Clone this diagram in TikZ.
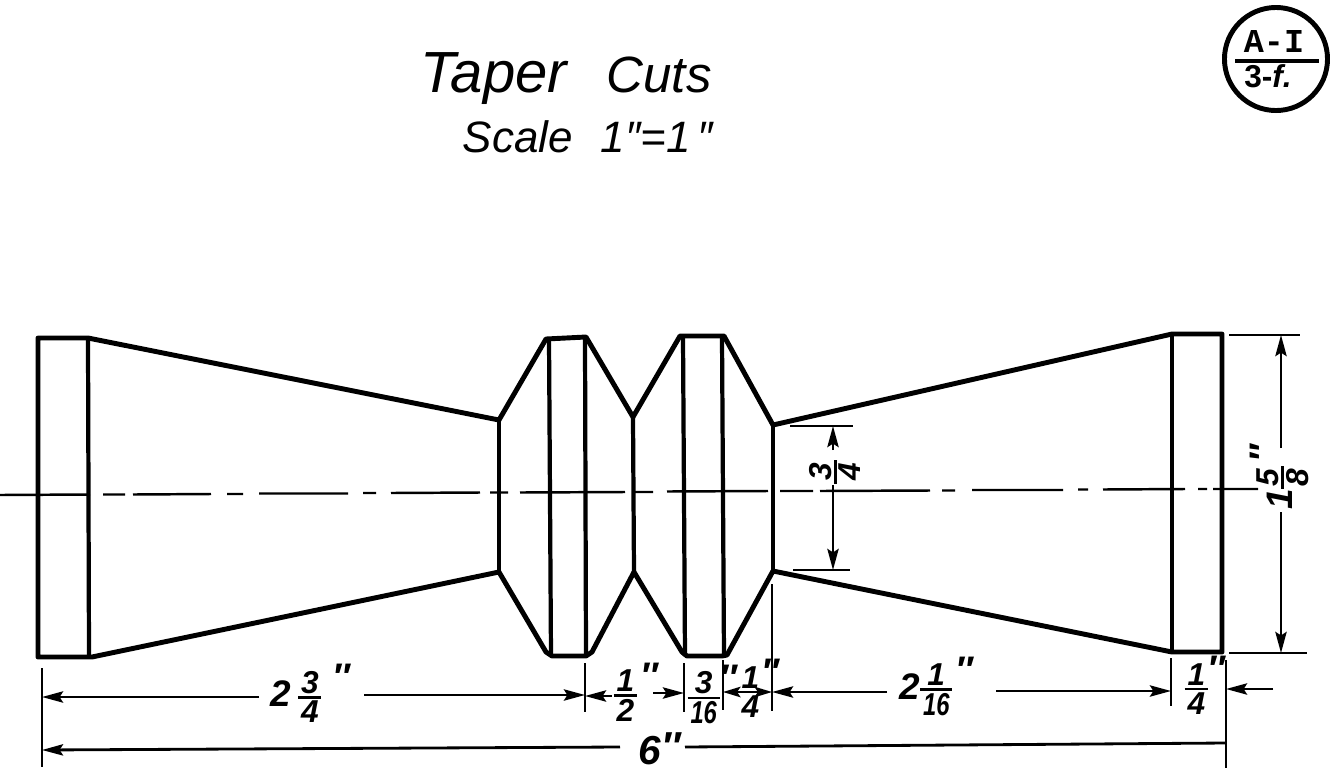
\documentclass[tikz,border=0pt]{standalone}
\usepackage{fontspec}
\setmainfont{Liberation Sans}
\newfontfamily\badgefont{Liberation Mono}
\usetikzlibrary{arrows.meta}

\newcommand{\dimfrac}[2]{$\vcenter{\offinterlineskip\fontsize{9}{10}\selectfont
  \halign{\kern.8pt\hfil##\hfil\kern.8pt\cr #1\cr\noalign{\kern.7pt\hrule height.8pt\kern.7pt}#2\cr}}$}
\newcommand{\narrownum}[1]{\scalebox{.75}[1]{#1}}
\newcommand{\inchmark}{\smash{\raisebox{5pt}{″}}}

\tikzset{
  partline/.style={line width=1.4pt,line join=round},
  cutline/.style={line width=1.2pt},
  centreline/.style={line width=.7pt},
  extline/.style={line width=.6pt},
  dimline/.style={line width=.8pt,-{Stealth[length=6pt,width=3.2pt,inset=1pt]}},
  dimboth/.style={line width=.6pt,{Stealth[length=5pt,width=3pt,inset=1pt]}-{Stealth[length=5pt,width=3pt,inset=1pt]}},
  dimtext/.style={inner sep=0pt,font=\fontsize{10.5}{12}\selectfont\bfseries\itshape},
}

\begin{document}
\begin{tikzpicture}[x=.01cm,y=-.01cm]
   \useasboundingbox (0,0) rectangle (1332,778);

   % title
   \node[anchor=base west,inner sep=0pt,font=\fontsize{16.5}{18}\selectfont\itshape] (title) at (420,92) {Taper};
   \node[anchor=base west,inner sep=0pt,font=\fontsize{14.5}{18}\selectfont\itshape] (cuts) at (606,92) {Cuts};
   \node[anchor=base west,inner sep=0pt,font=\fontsize{12.5}{15}\selectfont\itshape] (scale) at (462,152) {Scale\hspace{8pt}1″=1\hspace{2pt}″};

   % badge
   \node[circle,draw,line width=1.4pt,inner sep=0pt,minimum size=1.03cm] (badge) at (1276,59) {};
   \coordinate (badgeL) at (1235,61);
   \coordinate (badgeR) at (1319,61);
   \path (badgeL) edge[line width=.9pt] (badgeR);
   \node[anchor=base,inner sep=0pt,font=\fontsize{9.5}{10}\selectfont\badgefont\bfseries] (badgeT) at (1274,52) {A-I};
   \node[anchor=base,inner sep=0pt,font=\fontsize{9}{10}\selectfont\bfseries] (badgeB) at (1268,87) {3-\textit{f.}};

   % part outline
   \draw[partline] (38,338) -- (88,338) -- (499,420) -- (546,339) -- (586,337) -- (633,417)
      -- (680,336) -- (724,336) -- (773,425) -- (1172,334) -- (1222,334) -- (1222,652)
      -- (1172,652) -- (773,571) -- (727,655) -- (722,656) -- (687,656) -- (682,652)
      -- (634,572) -- (592,652) -- (586,656) -- (552,656) -- (546,652) -- (499,572)
      -- (92,657) -- (38,657) -- cycle;

   % cuts
   \draw[cutline] (88,338) -- (89,657);
   \draw[cutline] (499,420) -- (499,572);
   \draw[cutline] (549,338) -- (551,656);
   \draw[cutline] (585,337) -- (586,656);
   \draw[cutline] (633,417) -- (634,572);
   \draw[cutline] (683,336) -- (685,656);
   \draw[cutline] (722,336) -- (724,656);
   \draw[cutline] (773,425) -- (773,571);
   \draw[cutline] (1172,334) -- (1172,652);

   % centre line
   \draw[centreline] (0,495) -- (90,494.5) (103,494.5) -- (125,494.5) (133,494.5) -- (211,494)
      (227,494) -- (243,494) (259,493.5) -- (348,493.5) (363,493) -- (376,493)
      (391,493) -- (480,492.5) (490,492.5) -- (508,492.5) (520,492.5) -- (625,492)
      (635,492) -- (653,492) (667,491.5) -- (768,491) (780,491) -- (813,491)
      (820,491) -- (930,490.5) (942,490.5) -- (955,490.5) (972,490) -- (1063,490)
      (1078,489.5) -- (1088,489.5) (1103,489.5) -- (1185,489) (1198,489) -- (1207,489)
      (1213,489) -- (1258,489);

   % extension lines
   \coordinate (e1a) at (42,668);
   \coordinate (e1b) at (42,767);
   \coordinate (e2a) at (585,663);
   \coordinate (e2b) at (585,712);
   \coordinate (e3a) at (684,663);
   \coordinate (e3b) at (684,712);
   \coordinate (e4a) at (723,660);
   \coordinate (e4b) at (723,710);
   \coordinate (e5a) at (772,584);
   \coordinate (e5b) at (772,711);
   \coordinate (e6a) at (1171,658);
   \coordinate (e6b) at (1171,706);
   \coordinate (e7a) at (1226,660);
   \coordinate (e7b) at (1226,768);
   \coordinate (e8a) at (790,426);
   \coordinate (e8b) at (853,426);
   \coordinate (e9a) at (793,570);
   \coordinate (e9b) at (850,570);
   \coordinate (e10a) at (1229,335);
   \coordinate (e10b) at (1300,335);
   \coordinate (e11a) at (1229,653);
   \coordinate (e11b) at (1307,653);

   \path (e1a) edge[extline] (e1b);
   \path (e2a) edge[extline] (e2b);
   \path (e3a) edge[extline] (e3b);
   \path (e4a) edge[extline] (e4b);
   \path (e5a) edge[extline] (e5b);
   \path (e6a) edge[extline] (e6b);
   \path (e7a) edge[extline] (e7b);
   \path (e8a) edge[extline] (e8b);
   \path (e9a) edge[extline] (e9b);
   \path (e10a) edge[extline] (e10b);
   \path (e11a) edge[extline] (e11b);

   % dimension arrows
   \coordinate (d1a) at (259,697);
   \coordinate (d1b) at (42,697);
   \coordinate (d2a) at (364,695);
   \coordinate (d2b) at (585,695);
   \coordinate (d3a) at (612,696);
   \coordinate (d3b) at (585,696);
   \coordinate (d4a) at (653,693);
   \coordinate (d4b) at (684,693);
   \coordinate (d5a) at (723,692);
   \coordinate (d5b) at (772,692);
   \coordinate (d6a) at (887,692);
   \coordinate (d6b) at (772,692);
   \coordinate (d7a) at (996,691);
   \coordinate (d7b) at (1171,691);
   \coordinate (d8a) at (1273,689);
   \coordinate (d8b) at (1226,689);
   \coordinate (d9a) at (620,747);
   \coordinate (d9b) at (42,750);
   \coordinate (d10a) at (685,747);
   \coordinate (d10b) at (1226,743);
   \coordinate (d11a) at (833,450);
   \coordinate (d11b) at (833,426);
   \coordinate (d12a) at (833,485);
   \coordinate (d12b) at (833,570);
   \coordinate (d13a) at (1281,448);
   \coordinate (d13b) at (1281,335);
   \coordinate (d14a) at (1281,512);
   \coordinate (d14b) at (1281,653);

   \path (d1a) edge[dimline] (d1b);
   \path (d2a) edge[dimline] (d2b);
   \path (d3a) edge[dimline] (d3b);
   \path (d4a) edge[dimline] (d4b);
   \path (d5a) edge[dimboth] (d5b);
   \path (d6a) edge[dimline] (d6b);
   \path (d7a) edge[dimline] (d7b);
   \path (d8a) edge[dimline] (d8b);
   \path (d9a) edge[dimline] (d9b);
   \path (d10a) edge[line width=.8pt] (d10b);
   \path (d11a) edge[dimline] (d11b);
   \path (d12a) edge[dimline] (d12b);
   \path (d13a) edge[dimline] (d13b);
   \path (d14a) edge[dimline] (d14b);

   % dimension labels
   \node[dimtext,anchor=west] (lab1) at (270,697) {2\hspace{2pt}\dimfrac{3}{4}\hspace{3pt}\inchmark};
   \node[dimtext,anchor=west] (lab2) at (613,696) {\dimfrac{1}{2}\hspace{1pt}\inchmark};
   \node[dimtext,anchor=west] (lab3) at (687,698) {\dimfrac{3}{\narrownum{16}}\inchmark};
   \node[dimtext,anchor=west] (lab4) at (738,692) {\dimfrac{1}{4}\inchmark};
   \node[dimtext,anchor=west] (lab5) at (899,690) {2\dimfrac{1}{\narrownum{16}}\hspace{1pt}\inchmark};
   \node[dimtext,anchor=west] (lab6) at (1184,689) {\dimfrac{1}{4}\inchmark};
   \node[dimtext,anchor=west,font=\fontsize{11.5}{13}\selectfont\bfseries\itshape] (lab7) at (638,749) {6\raisebox{1pt}{″}};
   \node[dimtext,rotate=90] (lab8) at (835,472) {\dimfrac{3}{4}};
   \node[dimtext,rotate=90] (lab9) at (1283,477) {1\dimfrac{5}{8}\hspace{1pt}\inchmark};

\end{tikzpicture}
\end{document}
